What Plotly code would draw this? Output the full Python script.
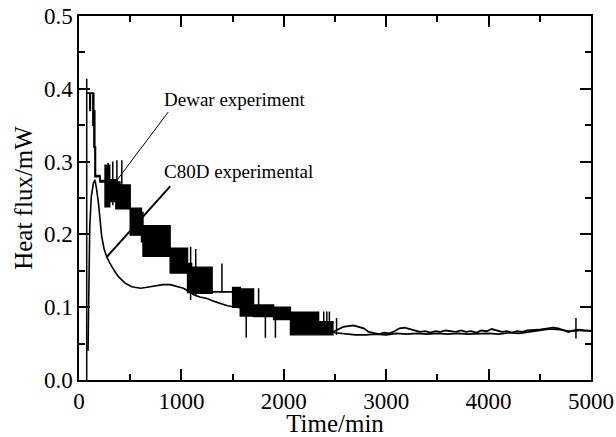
import plotly.graph_objects as go

# Dewar experiment: dense oscillation drawn as a band (lower / upper envelope), step-wise in time
dewar_t = [68, 76, 105, 112, 135, 145, 155, 162, 205, 254, 300, 360, 400, 500, 610, 625,
           890, 1060, 1100, 1300, 1500, 1575, 1705, 1900, 2065, 2340, 2480]
dewar_lo = [0.0, 0.394, 0.370, 0.394, 0.350, 0.320, 0.279, 0.279, 0.272, 0.238, 0.245, 0.235,
            0.235, 0.199, 0.190, 0.170, 0.147, 0.120, 0.119, 0.121, 0.100, 0.088, 0.087, 0.083,
            0.062, 0.062, 0.066]
dewar_hi = [0.413, 0.394, 0.394, 0.394, 0.394, 0.370, 0.320, 0.281, 0.274, 0.295, 0.275, 0.272,
            0.268, 0.236, 0.230, 0.212, 0.181, 0.160, 0.155, 0.121, 0.127, 0.125, 0.103, 0.100,
            0.093, 0.080, 0.066]

# isolated spikes of the Dewar signal: time, low, high
spike_t = [285, 330, 370, 418, 1090, 1140, 1396, 1633, 1754, 1820, 1918, 2390, 2420, 2445, 2515, 4853]
spike_lo = [0.238, 0.240, 0.245, 0.245, 0.110, 0.115, 0.120, 0.058, 0.096, 0.058, 0.058,
            0.062, 0.062, 0.062, 0.062, 0.057]
spike_hi = [0.298, 0.300, 0.302, 0.302, 0.183, 0.180, 0.160, 0.110, 0.126, 0.100, 0.100,
            0.094, 0.094, 0.094, 0.085, 0.085]

# Dewar signal after it settles
dewar_tail_t = [2480, 2530, 2580, 2630, 2680, 2730, 2780, 2830, 2880, 2930, 2980, 3030, 3080,
                3130, 3180, 3230, 3280, 3330, 3380, 3430, 3480, 3530, 3580, 3630, 3680, 3730,
                3780, 3830, 3880, 3930, 3980, 4030, 4080, 4130, 4180, 4230, 4280, 4330, 4380,
                4430, 4480, 4530, 4580, 4630, 4680, 4730, 4780, 4830, 4880, 4930, 4980, 5000]
dewar_tail_v = [0.066, 0.070, 0.073, 0.074, 0.075, 0.073, 0.071, 0.066, 0.064, 0.063, 0.065,
                0.064, 0.067, 0.071, 0.072, 0.070, 0.068, 0.066, 0.067, 0.065, 0.067, 0.066,
                0.068, 0.067, 0.066, 0.068, 0.066, 0.067, 0.065, 0.068, 0.067, 0.070, 0.068,
                0.066, 0.067, 0.065, 0.067, 0.066, 0.068, 0.068, 0.069, 0.070, 0.071, 0.072,
                0.071, 0.068, 0.066, 0.068, 0.069, 0.068, 0.067, 0.067]

# C80D experimental curve
c80d_t = [88, 92, 97, 105, 120, 140, 155, 170, 190, 205, 222, 245, 271, 300, 320, 350, 385, 420,
          450, 515, 560, 600, 650, 700, 760, 820, 890, 950, 1020, 1070, 1120, 1180, 1250,
          1320, 1380, 1450, 1543, 1650, 1800, 1900, 2000, 2100, 2200, 2300, 2400, 2500, 2600,
          2700, 2800, 2900, 3000, 3100, 3200, 3300, 3400, 3500, 3600, 3700, 3800, 3900, 4000,
          4100, 4200, 4300, 4400, 4500, 4600, 4700, 4800, 4900, 5000]
c80d_v = [0.040, 0.090, 0.150, 0.210, 0.252, 0.270, 0.275, 0.264, 0.243, 0.220, 0.197, 0.180,
          0.169, 0.161, 0.156, 0.149, 0.142, 0.137, 0.133, 0.128, 0.127, 0.126, 0.127, 0.128,
          0.129, 0.131, 0.131, 0.129, 0.126, 0.122, 0.117, 0.114, 0.112, 0.108, 0.105, 0.102,
          0.100, 0.097, 0.093, 0.090, 0.087, 0.082, 0.077, 0.072, 0.068, 0.065, 0.063, 0.062,
          0.062, 0.063, 0.062, 0.064, 0.063, 0.064, 0.063, 0.064, 0.063, 0.064, 0.063, 0.064,
          0.064, 0.063, 0.065, 0.064, 0.066, 0.068, 0.070, 0.069, 0.067, 0.068, 0.068]

FONT = "Liberation Serif, Times New Roman, serif"
INK = "black"

fig = go.Figure()

# Dewar band: lower edge, then upper edge filled down to it
fig.add_trace(go.Scatter(x=dewar_t, y=dewar_lo, mode="lines", line=dict(color=INK, width=1.4, shape="hv"),
                         hoverinfo="skip", showlegend=False))
fig.add_trace(go.Scatter(x=dewar_t, y=dewar_hi, mode="lines", line=dict(color=INK, width=1.4, shape="hv"),
                         fill="tonexty", fillcolor=INK, name="Dewar experiment", showlegend=False))

# spikes as vertical strokes
sx, sy = [], []
for t, lo, hi in zip(spike_t, spike_lo, spike_hi):
    sx += [t, t, None]
    sy += [lo, hi, None]
fig.add_trace(go.Scatter(x=sx, y=sy, mode="lines", line=dict(color=INK, width=1.5),
                         hoverinfo="skip", showlegend=False))

fig.add_trace(go.Scatter(x=dewar_tail_t, y=dewar_tail_v, mode="lines", line=dict(color=INK, width=1.8),
                         showlegend=False))

fig.add_trace(go.Scatter(x=c80d_t, y=c80d_v, mode="lines", line=dict(color=INK, width=1.6),
                         name="C80D experimental", showlegend=False))

# pointer lines and labels
fig.add_shape(type="line", xref="x", yref="y", x0=871, y0=0.368, x1=336, y1=0.268,
              line=dict(color=INK, width=1))
fig.add_shape(type="line", xref="x", yref="y", x0=890, y0=0.266, x1=271, y1=0.169,
              line=dict(color=INK, width=2))
fig.add_annotation(x=812, y=0.385, xref="x", yref="y", text="Dewar experiment", showarrow=False,
                   xanchor="left", yanchor="middle", font=dict(family=FONT, size=19, color=INK))
fig.add_annotation(x=812, y=0.286, xref="x", yref="y", text="C80D experimental", showarrow=False,
                   xanchor="left", yanchor="middle", font=dict(family=FONT, size=19, color=INK))

axis_common = dict(
    showline=True, linecolor=INK, linewidth=1.5, mirror="ticks",
    ticks="inside", ticklen=11, tickwidth=1.5, tickcolor=INK,
    showgrid=False, zeroline=False, automargin=False,
    tickfont=dict(family=FONT, size=23, color=INK),
)

fig.update_xaxes(
    range=[0, 5000], tick0=0, dtick=1000,
    minor=dict(ticks="inside", ticklen=6, tickwidth=1.5, tickcolor=INK, dtick=500, showgrid=False),
    title=dict(text="Time/min", font=dict(family=FONT, size=25, color=INK), standoff=0),
    **axis_common,
)
fig.update_yaxes(
    range=[0, 0.5], tick0=0, dtick=0.1, tickformat=".1f",
    minor=dict(ticks="inside", ticklen=6, tickwidth=1.5, tickcolor=INK, dtick=0.05, showgrid=False),
    title=dict(text="Heat flux/mW", font=dict(family=FONT, size=25, color=INK), standoff=4),
    **axis_common,
)

fig.update_layout(
    width=616, height=437,
    margin=dict(l=79, r=25, t=16, b=57),
    paper_bgcolor="white", plot_bgcolor="white",
    showlegend=False,
)

fig.write_html("out.html")
